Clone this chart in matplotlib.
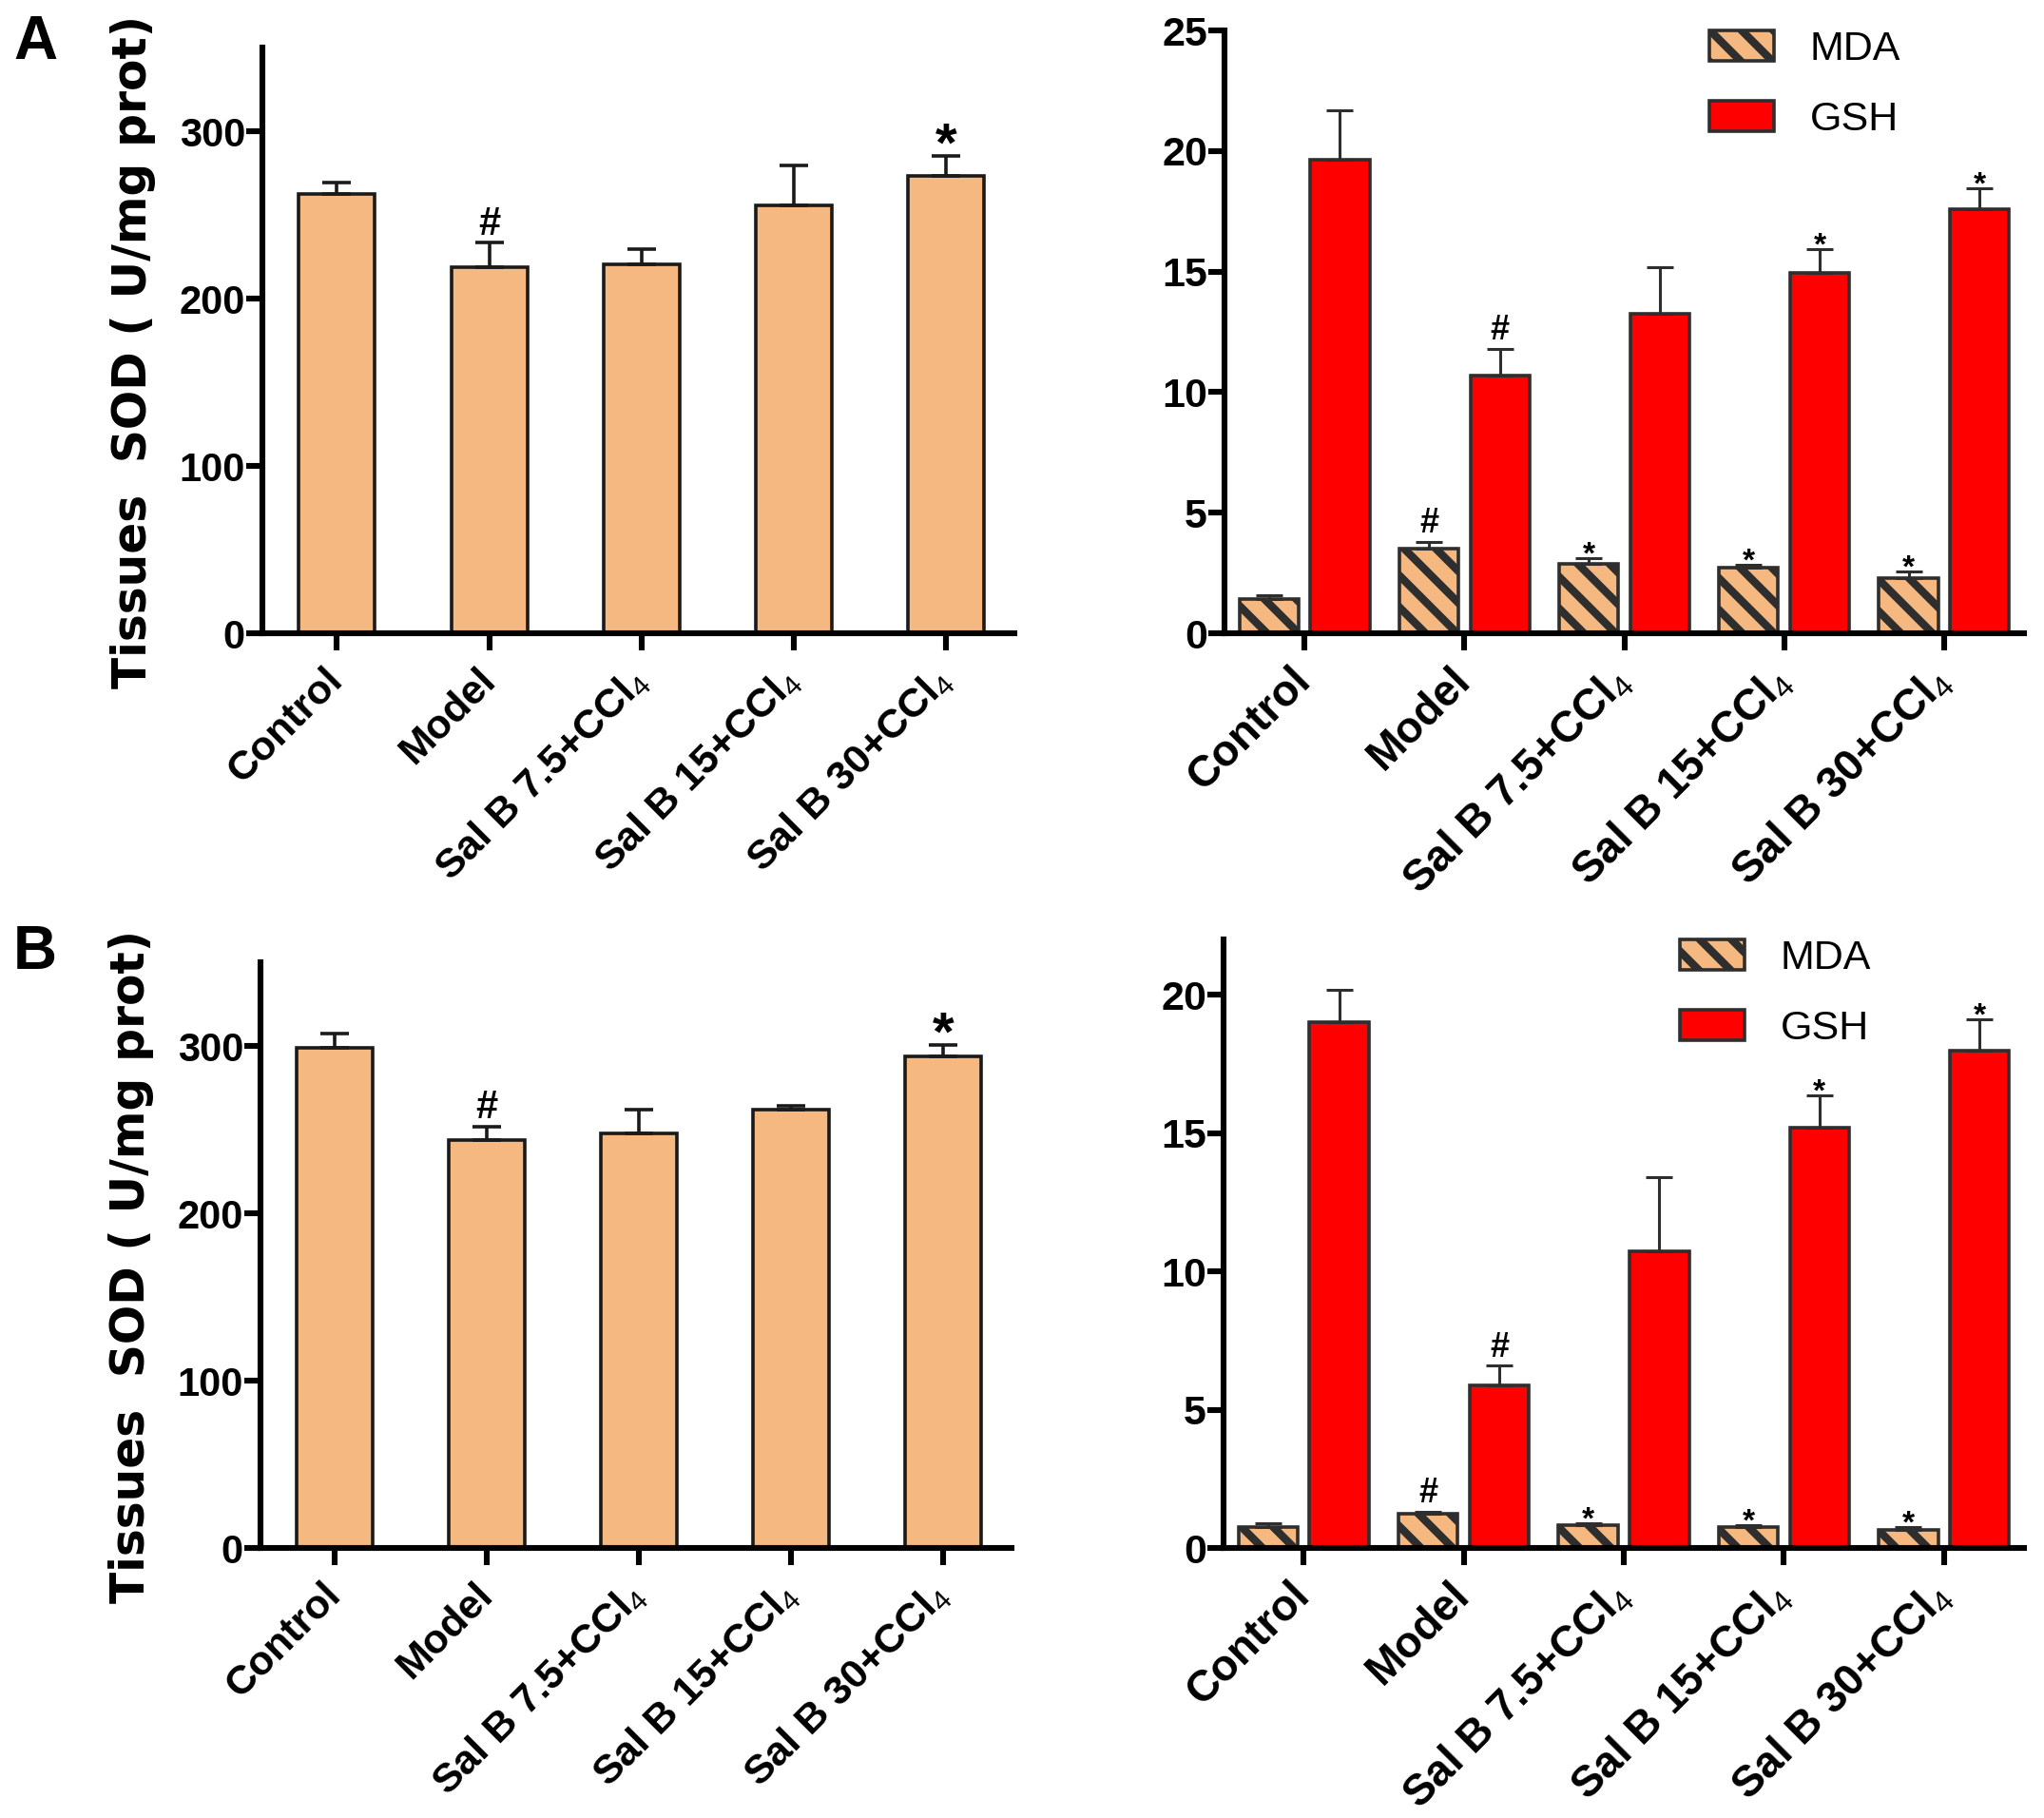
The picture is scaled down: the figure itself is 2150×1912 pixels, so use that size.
import numpy as np
import matplotlib
matplotlib.use("Agg")
import matplotlib.pyplot as plt
from matplotlib import font_manager

# ---- data ----
groups = ["Control", "Model", "Sal B 7.5+CCl$_4$", "Sal B 15+CCl$_4$", "Sal B 30+CCl$_4$"]

sod_A = [262.5, 218.8, 220.3, 255.5, 273.4]
sod_A_err = [7.0, 14.8, 9.4, 24.2, 11.8]
sod_A_marks = ["", "#", "", "", "*"]

sod_B = [298.8, 244.0, 247.8, 262.0, 294.0]
sod_B_err = [8.7, 7.8, 14.2, 2.3, 6.4]
sod_B_marks = ["", "#", "", "", "*"]

mda_A = [1.41, 3.51, 2.86, 2.71, 2.30]
mda_A_err = [0.17, 0.28, 0.25, 0.14, 0.28]
gsh_A = [19.64, 10.70, 13.23, 14.95, 17.59]
gsh_A_err = [2.06, 1.09, 1.97, 1.00, 0.87]

mda_B = [0.77, 1.25, 0.83, 0.77, 0.66]
mda_B_err = [0.11, 0.06, 0.05, 0.06, 0.08]
gsh_B = [19.00, 5.88, 10.73, 15.21, 17.99]
gsh_B_err = [1.17, 0.71, 2.69, 1.14, 1.11]

mda_marks = ["", "#", "*", "*", "*"]
gsh_marks = ["", "#", "", "*", "*"]

sod_ticks = [0, 100, 200, 300]
ticks_A = [0, 5, 10, 15, 20, 25]
ticks_B = [0, 5, 10, 15, 20]

TAN = "#F5B880"
RED = "#FF0000"
DARK = "#2e2e2e"

names = {f.name for f in font_manager.fontManager.ttflist}
narrow = "Liberation Sans Narrow" if "Liberation Sans Narrow" in names else "Liberation Sans"

plt.rcParams["font.family"] = ["Liberation Sans", "DejaVu Sans"]
plt.rcParams["mathtext.fontset"] = "custom"
plt.rcParams["mathtext.rm"] = "Liberation Sans"
plt.rcParams["mathtext.it"] = "Liberation Sans:italic"
plt.rcParams["mathtext.bf"] = "Liberation Sans:bold"
plt.rcParams["hatch.linewidth"] = 3.0
plt.rcParams["axes.linewidth"] = 2.2

DPI = 200
W, H = 2150, 1912
fig = plt.figure(figsize=(W / DPI, H / DPI), dpi=DPI)


def px_axes(l, t, r, b):
    return fig.add_axes([l / W, 1 - b / H, (r - l) / W, (b - t) / H])


def style(ax, ymax, yticks, xsize, ysize):
    ax.spines[["top", "right"]].set_visible(False)
    ax.set_ylim(0, ymax)
    ax.set_yticks(yticks)
    ax.set_xticks(range(len(groups)))
    ax.set_xticklabels(groups, rotation=45, ha="right", va="center",
                       rotation_mode="anchor", fontsize=xsize, fontweight="bold")
    ax.tick_params(axis="x", length=6.5, width=2.2, pad=9)
    ax.tick_params(axis="y", length=6, width=2.2, pad=0.5)
    for lab in ax.get_yticklabels():
        lab.set_fontfamily(narrow)
        lab.set_fontweight("bold")
        lab.set_fontsize(ysize)


def mark(ax, xs, tops, marks, star_size, hash_size, star_dy, hash_dy):
    for x, t, m in zip(xs, tops, marks):
        if not m:
            continue
        size, dy = (star_size, star_dy) if m == "*" else (hash_size, hash_dy)
        ax.annotate(m, (x, t), xytext=(0, dy), textcoords="offset points",
                    ha="center", va="baseline", fontsize=size, fontweight="bold")


def sod_panel(ax, mean, err, marks):
    x = np.arange(len(mean))
    ax.bar(x, mean, width=0.5, color=TAN, edgecolor="#1a1a1a", linewidth=1.3, zorder=2)
    ax.errorbar(x, mean, yerr=[np.zeros(len(x)), err], fmt="none", ecolor="#1a1a1a",
                elinewidth=1.3, capsize=5.5, capthick=1.3, zorder=3)
    ax.set_xlim(-0.49, 4.45)
    style(ax, 350, sod_ticks, 15.5, 15)
    ax.set_ylabel("Tissues  SOD ( U/mg prot)", family="DejaVu Sans",
                  fontweight="bold", fontsize=17.5)
    ax.yaxis.set_label_coords(-0.142, 0.48)
    mark(ax, x, np.add(mean, err), marks, 21, 15, -2, 3)


def redox_panel(ax, mda, mda_err, gsh, gsh_err, ymax, yticks, leg_x):
    x = np.arange(len(mda))
    w, off = 0.37, 0.222
    ax.bar(x - off, mda, w, color=TAN, edgecolor=DARK, hatch="\\\\", linewidth=1.3,
           zorder=2, label="MDA")
    ax.bar(x + off, gsh, w, color=RED, edgecolor=DARK, linewidth=1.3, zorder=2, label="GSH")
    for xs, m, e in ((x - off, mda, mda_err), (x + off, gsh, gsh_err)):
        ax.errorbar(xs, m, yerr=[np.zeros(len(xs)), e], fmt="none", ecolor=DARK,
                    elinewidth=1.1, capsize=5.2, capthick=1.1, zorder=3)
    ax.set_xlim(-0.5, 4.5)
    style(ax, ymax, yticks, 16.5, 15.5)
    mark(ax, x - off, np.add(mda, mda_err), mda_marks, 12, 13, -2, 3.5)
    mark(ax, x + off, np.add(gsh, gsh_err), gsh_marks, 12, 13, -2, 3.5)
    ax.legend(loc="upper left", bbox_to_anchor=(leg_x, 1.0), frameon=False,
              fontsize=15.5, handlelength=1.58, handleheight=0.78,
              handletextpad=0.88, labelspacing=0.78, borderpad=0, borderaxespad=0)


ax_tl = px_axes(276, 50, 1067, 666)
sod_panel(ax_tl, sod_A, sod_A_err, sod_A_marks)

ax_tr = px_axes(1288, 32, 2129, 666)
redox_panel(ax_tr, mda_A, mda_A_err, gsh_A, gsh_A_err, 25, ticks_A, 0.606)

ax_bl = px_axes(274, 1012, 1064, 1628)
sod_panel(ax_bl, sod_B, sod_B_err, sod_B_marks)

ax_br = px_axes(1287, 988, 2129, 1628)
redox_panel(ax_br, mda_B, mda_B_err, gsh_B, gsh_B_err, 22, ticks_B, 0.570)

fig.text(14 / W, 1 - 62 / H, "A", family=narrow, fontweight="bold", fontsize=23,
         ha="left", va="baseline")
fig.text(14 / W, 1 - 1019 / H, "B", family=narrow, fontweight="bold", fontsize=23,
         ha="left", va="baseline")

fig.savefig("out.png", dpi=DPI, facecolor="white")
